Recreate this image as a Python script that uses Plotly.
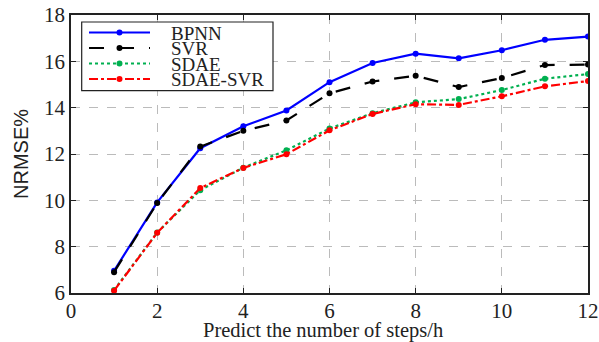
import plotly.graph_objects as go

steps = [1, 2, 3, 4, 5, 6, 7, 8, 9, 10, 11, 12]
bpnn = [6.96, 9.91, 12.25, 13.2, 13.88, 15.1, 15.93, 16.33, 16.13, 16.48, 16.93, 17.07]
svr = [6.9, 9.88, 12.32, 13.0, 13.45, 14.62, 15.13, 15.38, 14.89, 15.28, 15.84, 15.86]
sdae = [6.13, 8.61, 10.44, 11.41, 12.16, 13.1, 13.76, 14.23, 14.37, 14.76, 15.25, 15.45]
sdae_svr = [6.1, 8.6, 10.53, 11.4, 11.99, 13.02, 13.73, 14.15, 14.12, 14.49, 14.92, 15.15]

series = [
    ("BPNN", bpnn, "#0000FF", "solid"),
    ("SVR", svr, "#000000", "longdash"),
    ("SDAE", sdae, "#00B050", "dot"),
    ("SDAE-SVR", sdae_svr, "#FF0000", "dashdot"),
]
x_title = "Predict the number of steps/h"
y_title = "NRMSE%"

W, H = 599, 342
L, R, T, B = 71, 11, 15, 49
PW, PH = W - L - R, H - T - B
serif = "Liberation Serif"


def px(xp):
    return (xp - L) / PW


def py(yp):
    return (H - B - yp) / PH


fig = go.Figure()
for name, vals, col, dash in series:
    fig.add_trace(go.Scatter(
        x=steps, y=vals, name=name, mode="lines+markers",
        line=dict(color=col, width=2.2, dash=dash),
        marker=dict(color=col, size=6, symbol="circle"),
        showlegend=False,
    ))

axis_common = dict(
    showline=True, linecolor="#222", linewidth=1.5, mirror="ticks",
    ticks="inside", ticklen=5, tickcolor="#222",
    showgrid=True, gridcolor="#BBBBBB", griddash="dash", gridwidth=1,
    zeroline=False, automargin=False,
    tickfont=dict(family=serif, size=21, color="#222"),
)
fig.update_xaxes(range=[0, 12], dtick=2, tick0=0, ticklabelstandoff=-2, **axis_common)
fig.update_yaxes(range=[6, 18], dtick=2, tick0=6,
                 title=dict(text=y_title,
                            font=dict(family="Liberation Sans", size=20, color="#222"), standoff=10),
                 **axis_common)

# custom legend box
shapes = [dict(type="rect", xref="paper", yref="paper",
               x0=px(81.7), x1=px(273), y0=py(90.7), y1=py(22),
               line=dict(color="#222", width=1.2), fillcolor="white", layer="above")]
annotations = [dict(xref="paper", yref="paper", x=px(323), y=py(330.5),
                    xanchor="center", yanchor="middle", showarrow=False,
                    text=x_title, font=dict(family=serif, size=20.5, color="#222"))]
rows = [32.5, 48, 63.5, 79]
r = 3
for (name, vals, col, dash), yrow in zip(series, rows):
    shapes.append(dict(type="line", xref="paper", yref="paper",
                       x0=px(89), x1=px(150), y0=py(yrow), y1=py(yrow),
                       line=dict(color=col, width=2.2, dash=dash), layer="above"))
    shapes.append(dict(type="circle", xref="paper", yref="paper",
                       x0=px(119.5 - r), x1=px(119.5 + r), y0=py(yrow + r), y1=py(yrow - r),
                       line=dict(color=col, width=0), fillcolor=col, layer="above"))
    annotations.append(dict(xref="paper", yref="paper", x=px(170), y=py(yrow + 0.5),
                            xanchor="left", yanchor="middle", showarrow=False,
                            height=15, valign="middle", borderpad=0,
                            text=name, font=dict(family=serif, size=19, color="#222")))

fig.update_layout(
    width=W, height=H,
    margin=dict(l=L, r=R, t=T, b=B, autoexpand=False),
    plot_bgcolor="white", paper_bgcolor="white",
    font=dict(family=serif, color="#222"),
    showlegend=False,
    shapes=shapes, annotations=annotations,
)

fig.write_html("out.html")
